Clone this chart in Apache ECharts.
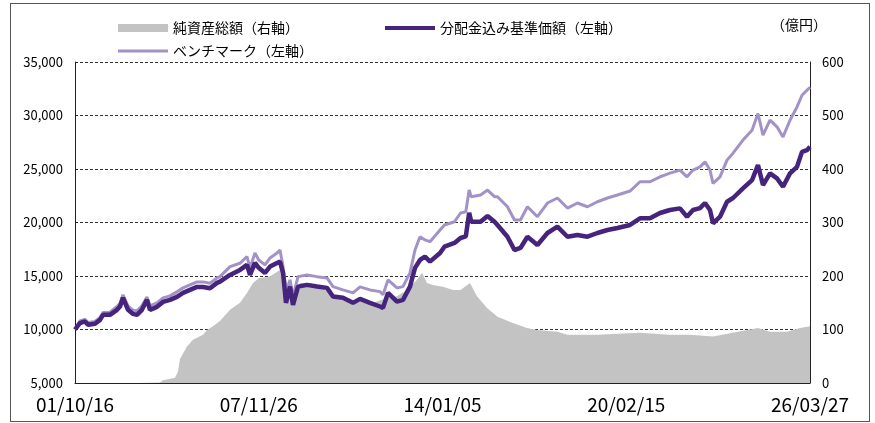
<!DOCTYPE html>
<html>
<head>
<meta charset="utf-8">
<script src="https://cdn.jsdelivr.net/npm/echarts@6/dist/echarts.min.js"></script>
<style>
html, body { margin: 0; padding: 0; background: #fff; }
#frame { position: absolute; left: 10px; top: 3px; width: 860px; height: 419px; border: 1px solid #555; box-sizing: border-box; }
#main { position: absolute; left: 0; top: 0; width: 875px; height: 423px; }
</style>
</head>
<body>
<div id="frame"></div>
<div id="main"></div>
<script>
// 基準価額・ベンチマーク（左軸、円）
const navDates = [
  '2001-10-16', '2001-12-15', '2002-02-14', '2002-03-23', '2002-06-16', '2002-08-16', '2002-09-21', '2002-12-15',
  '2003-03-10', '2003-04-16', '2003-05-22', '2003-07-22', '2003-09-21', '2003-11-08', '2004-01-07', '2004-03-08',
  '2004-04-14', '2004-07-08', '2004-09-19', '2004-12-13', '2005-03-08', '2005-05-20', '2005-08-13', '2005-11-06',
  '2006-01-18', '2006-04-13', '2006-07-07', '2006-08-12', '2006-12-12', '2007-04-12', '2007-07-06', '2007-08-12',
  '2007-10-11', '2007-11-26', '2008-02-10', '2008-04-11', '2008-07-05', '2008-08-10', '2008-09-16', '2008-10-22',
  '2008-12-10', '2009-01-15', '2009-03-17', '2009-07-04', '2009-11-03', '2010-03-04', '2010-05-16', '2010-09-14',
  '2011-01-14', '2011-04-09', '2011-08-08', '2011-12-08', '2012-01-13', '2012-03-14', '2012-07-01', '2012-09-12',
  '2012-12-06', '2013-02-05', '2013-04-07', '2013-06-06', '2013-08-06', '2013-12-06', '2014-01-29', '2014-05-31',
  '2014-08-12', '2014-10-15', '2014-11-25', '2014-12-20', '2015-04-12', '2015-07-06', '2015-09-29', '2015-11-04',
  '2016-03-04', '2016-05-28', '2016-08-09', '2016-11-02', '2017-03-03', '2017-07-03', '2017-11-01', '2018-03-03',
  '2018-07-02', '2018-11-01', '2019-03-02', '2019-07-02', '2019-10-31', '2020-04-01', '2020-07-31', '2020-11-30',
  '2021-03-31', '2021-07-30', '2021-11-29', '2022-02-22', '2022-05-06', '2022-07-30', '2022-09-29', '2022-11-28',
  '2023-01-04', '2023-03-30', '2023-06-23', '2023-09-04', '2024-01-03', '2024-04-22', '2024-07-03', '2024-09-02',
  '2024-11-26', '2025-02-19', '2025-05-03', '2025-07-27', '2025-10-20', '2025-12-20', '2026-02-18', '2026-03-27'
];
const navValues = [
  10000, 10600, 10750, 10440, 10530, 10900, 11370, 11370,
  11840, 12150, 12960, 11840, 11460, 11370, 11840, 12770,
  11840, 12120, 12580, 12770, 13050, 13420, 13700, 13980,
  13980, 13860, 14360, 14480, 15100, 15570, 16040, 15100,
  16220, 15760, 15290, 15880, 16220, 16340, 15290, 12490,
  14010, 12300, 14010, 14170, 14010, 13890, 13080, 12960,
  12490, 12860, 12490, 12150, 12020, 13420, 12610, 12770,
  14010, 15760, 16500, 16810, 16340, 17150, 17740, 18090,
  18550, 18700, 20900, 20070, 20070, 20610, 20070, 19770,
  18670, 17430, 17620, 18670, 17900, 19020, 19610, 18670,
  18830, 18670, 19020, 19300, 19490, 19770, 20390, 20390,
  20890, 21170, 21320, 20540, 21170, 21350, 21820, 21170,
  19920, 20540, 21940, 22290, 23190, 23960, 25360, 23500,
  24590, 24120, 23340, 24590, 25200, 26600, 26760, 27070
];
const benchValues = [
  10000, 10800, 10950, 10650, 10750, 11120, 11600, 11620,
  12150, 12450, 13240, 12180, 11800, 11740, 12210, 13050,
  12210, 12490, 12960, 13140, 13520, 13890, 14170, 14450,
  14450, 14330, 14820, 14940, 15880, 16190, 16810, 15760,
  17150, 16500, 16040, 16690, 17150, 17430, 15880, 13420,
  14640, 13080, 14940, 15100, 14940, 14820, 14010, 13700,
  13420, 13980, 13700, 13540, 13240, 14640, 13890, 14010,
  15290, 17430, 18670, 18370, 18210, 19300, 19770, 20070,
  20890, 21000, 23050, 22410, 22570, 23030, 22410, 22410,
  21470, 20230, 20230, 21470, 20540, 21820, 22290, 21350,
  21820, 21470, 21940, 22290, 22570, 22940, 23810, 23810,
  24270, 24620, 24900, 24270, 24900, 25200, 25670, 24900,
  23660, 24270, 25830, 26480, 27700, 28630, 30190, 28160,
  29560, 28940, 28000, 29560, 30800, 31890, 32360, 32640
];

// 純資産総額（右軸、億円）
const assetDates = [
  '2001-10-16', '2003-11-01', '2003-11-08', '2004-08-13', '2004-09-19', '2005-02-12', '2005-03-20', '2005-04-13',
  '2005-07-07', '2005-09-18', '2006-01-18', '2006-03-07', '2006-05-19', '2006-08-12', '2006-12-12', '2007-04-12',
  '2007-07-06', '2007-09-17', '2007-11-26', '2008-04-11', '2008-07-05', '2008-08-10', '2008-10-10', '2008-12-10',
  '2009-02-08', '2009-04-10', '2009-08-10', '2009-12-09', '2010-04-09', '2010-08-09', '2010-12-08', '2011-04-09',
  '2011-09-14', '2012-03-02', '2012-07-01', '2012-10-31', '2013-03-01', '2013-05-01', '2013-07-01', '2013-09-12',
  '2014-01-11', '2014-05-13', '2014-08-12', '2014-12-05', '2015-02-28', '2015-06-30', '2015-11-04', '2016-05-09',
  '2016-10-26', '2017-03-03', '2017-11-01', '2018-03-03', '2019-03-02', '2020-07-31', '2021-07-30', '2022-03-30',
  '2023-01-04', '2023-07-29', '2024-07-03', '2024-11-26', '2025-06-21', '2025-11-26', '2026-03-27'
];
const assetValues = [
  0, 0, 1, 1, 5, 10, 21, 45,
  68, 81, 90, 99, 106, 116, 137, 150,
  168, 187, 196, 199, 208, 211, 200, 174,
  165, 187, 187, 180, 168, 159, 150, 155,
  150, 159, 162, 174, 193, 206, 187, 183,
  180, 174, 174, 187, 162, 140, 124, 112,
  103, 99, 96, 90, 90, 94, 90, 90,
  87, 93, 103, 96, 96, 103, 106
];

const xTickLabels = ['01/10/16', '07/11/26', '14/01/05', '20/02/15', '26/03/27'];

const chart = echarts.init(document.getElementById('main'));
const FONT = '"Noto Sans CJK JP", sans-serif';
const T0 = Date.UTC(2001, 9, 16);
// 設定日からの経過日数
function dayOf(s) {
  const p = s.split('-');
  return (Date.UTC(+p[0], +p[1] - 1, +p[2]) - T0) / 86400000;
}
const SPAN = dayOf('2026-03-27');
const STEP = SPAN / 4;

function comma(v) {
  return String(v).replace(/\B(?=(\d{3})+(?!\d))/g, ',');
}

const option = {
  animation: false,
  textStyle: { fontFamily: FONT },
  grid: { left: 75, right: 65, top: 62, bottom: 40 },
  legend: [
    {
      left: 113, top: 16, selectedMode: false,
      itemWidth: 50, itemHeight: 8, itemGap: 86,
      itemStyle: { borderWidth: 0 },
      textStyle: { fontFamily: FONT, fontSize: 14, color: '#000' },
      data: [
        { name: '純資産総額（右軸）', icon: 'path://M0,0H50V8H0Z' },
        { name: '分配金込み基準価額（左軸）', icon: 'path://M0,0H50V4H0Z' }
      ]
    },
    {
      left: 113, top: 39, selectedMode: false,
      itemWidth: 50, itemHeight: 8,
      itemStyle: { borderWidth: 0 },
      textStyle: { fontFamily: FONT, fontSize: 14, color: '#000' },
      data: [{ name: 'ベンチマーク（左軸）', icon: 'path://M0,0H50V3H0Z' }]
    }
  ],
  xAxis: {
    type: 'value',
    min: 0,
    max: SPAN,
    interval: STEP,
    axisLine: { lineStyle: { color: '#222', width: 1 } },
    axisTick: { inside: true, length: 5, lineStyle: { color: '#222' } },
    splitLine: { show: false },
    axisLabel: {
      color: '#000', fontSize: 19, fontFamily: FONT, margin: 12,
      showMinLabel: true, showMaxLabel: true,
      formatter: v => xTickLabels[Math.round(v / STEP)] || ''
    }
  },
  yAxis: [
    {
      type: 'value', min: 5000, max: 35000, interval: 5000,
      axisLine: { show: true, lineStyle: { color: '#222' } },
      axisTick: { show: true, inside: true, length: 3, lineStyle: { color: '#222' } },
      splitLine: { show: true, lineStyle: { color: '#333', type: [3, 2], width: 1 } },
      axisLabel: { color: '#000', fontSize: 13, fontFamily: FONT, margin: 12, formatter: v => comma(v) }
    },
    {
      type: 'value', min: 0, max: 600, interval: 100,
      name: '（億円）',
      nameLocation: 'end',
      nameGap: 30,
      nameTextStyle: { color: '#000', fontSize: 14, fontFamily: FONT, padding: [0, 22, 0, 0] },
      axisLine: { show: true, lineStyle: { color: '#222' } },
      axisTick: { show: false },
      splitLine: { show: false },
      axisLabel: { color: '#000', fontSize: 13, fontFamily: FONT, margin: 12 }
    }
  ],
  series: [
    {
      name: '純資産総額（右軸）',
      type: 'line',
      yAxisIndex: 1,
      showSymbol: false,
      symbol: 'none',
      z: 1,
      itemStyle: { color: '#c3c3c3' },
      lineStyle: { width: 0, color: '#c3c3c3' },
      areaStyle: { color: '#c3c3c3', opacity: 1 },
      data: assetDates.map((d, i) => [dayOf(d), assetValues[i]])
    },
    {
      name: 'ベンチマーク（左軸）',
      type: 'line',
      yAxisIndex: 0,
      showSymbol: false,
      symbol: 'none',
      z: 2,
      itemStyle: { color: '#a392c6' },
      lineStyle: { width: 3, color: '#a392c6' },
      data: navDates.map((d, i) => [dayOf(d), benchValues[i]])
    },
    {
      name: '分配金込み基準価額（左軸）',
      type: 'line',
      yAxisIndex: 0,
      showSymbol: false,
      symbol: 'none',
      z: 3,
      itemStyle: { color: '#46237c' },
      lineStyle: { width: 4.5, color: '#46237c' },
      data: navDates.map((d, i) => [dayOf(d), navValues[i]])
    }
  ]
};
chart.setOption(option);
</script>
</body>
</html>
